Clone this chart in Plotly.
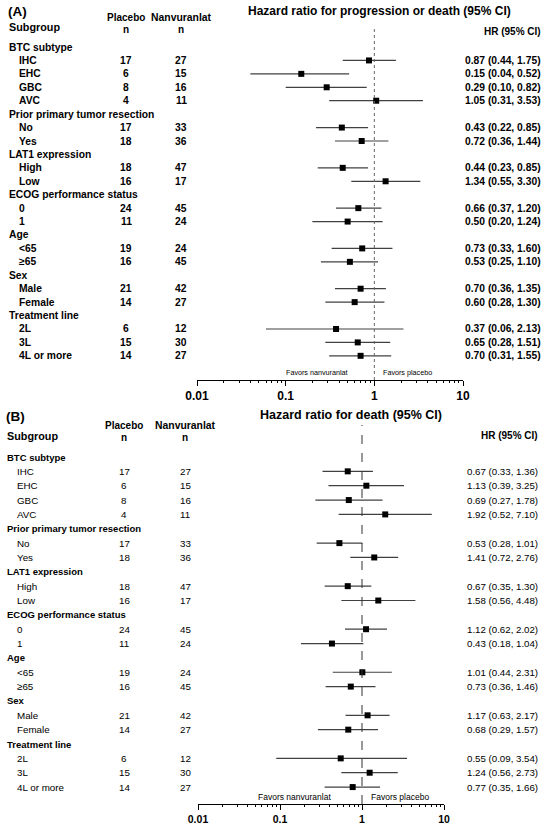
"""
Forest plots of subgroup hazard ratios: (A) progression or death, (B) death.
"""

import plotly.graph_objects as go

# ---- data -----------------------------------------------------------------
categories = [
    "BTC subtype", "IHC", "EHC", "GBC", "AVC",
    "Prior primary tumor resection", "No", "Yes",
    "LAT1 expression", "High", "Low",
    "ECOG performance status", "0", "1",
    "Age", "<65", "≥65",
    "Sex", "Male", "Female",
    "Treatment line", "2L", "3L", "4L or more",
]
group_headers = [
    "BTC subtype", "Prior primary tumor resection", "LAT1 expression",
    "ECOG performance status", "Age", "Sex", "Treatment line",
]
placebo_n = [None, 17, 6, 8, 4, None, 17, 18, None, 18, 16, None, 24, 11,
             None, 19, 16, None, 21, 14, None, 6, 15, 14]
nanvuranlat_n = [None, 27, 15, 16, 11, None, 33, 36, None, 47, 17, None, 45, 24,
                 None, 24, 45, None, 42, 27, None, 12, 30, 27]

# (A) progression or death
hr_pfs = [None, 0.87, 0.15, 0.29, 1.05, None, 0.43, 0.72, None, 0.44, 1.34, None, 0.66, 0.50,
          None, 0.73, 0.53, None, 0.70, 0.60, None, 0.37, 0.65, 0.70]
lo_pfs = [None, 0.44, 0.04, 0.10, 0.31, None, 0.22, 0.36, None, 0.23, 0.55, None, 0.37, 0.20,
          None, 0.33, 0.25, None, 0.36, 0.28, None, 0.06, 0.28, 0.31]
hi_pfs = [None, 1.75, 0.52, 0.82, 3.53, None, 0.85, 1.44, None, 0.85, 3.30, None, 1.20, 1.24,
          None, 1.60, 1.10, None, 1.35, 1.30, None, 2.13, 1.51, 1.55]

# (B) death
hr_os = [None, 0.67, 1.13, 0.69, 1.92, None, 0.53, 1.41, None, 0.67, 1.58, None, 1.12, 0.43,
         None, 1.01, 0.73, None, 1.17, 0.68, None, 0.55, 1.24, 0.77]
lo_os = [None, 0.33, 0.39, 0.27, 0.52, None, 0.28, 0.72, None, 0.35, 0.56, None, 0.62, 0.18,
         None, 0.44, 0.36, None, 0.63, 0.29, None, 0.09, 0.56, 0.35]
hi_os = [None, 1.36, 3.25, 1.78, 7.10, None, 1.01, 2.76, None, 1.30, 4.48, None, 2.02, 1.04,
         None, 2.31, 1.46, None, 2.17, 1.57, None, 3.54, 2.73, 1.66]

tick_vals = [0.01, 0.1, 1, 10]
tick_text = ["0.01", "0.1", "1", "10"]

# ---- layout helpers ---------------------------------------------------------
W, H = 550, 825
FONT = "Liberation Sans, Arial, sans-serif"


def px(x):
    return x / W


def py(y):
    return 1 - y / H


fig = go.Figure()
annotations = []


def text(x, y, s, size, bold=True, anchor="left", yref="paper"):
    annotations.append(
        dict(
            x=px(x), y=py(y) if yref == "paper" else y, xref="paper", yref=yref,
            text=s, showarrow=False, xanchor=anchor, yanchor="middle",
            font=dict(family=FONT, size=size, color="black",
                      weight="bold" if bold else "normal"),
        )
    )


def panel(tag, title, hr, lo, hi, xa, ya, geo):
    rows = list(range(len(categories)))
    pts = [i for i in rows if hr[i] is not None]
    fig.add_trace(
        go.Scatter(
            x=[hr[i] for i in pts],
            y=pts,
            xaxis=xa,
            yaxis=ya,
            mode="markers",
            marker=dict(symbol="square", size=6, color="black"),
            error_x=dict(
                type="data", symmetric=False,
                array=[hi[i] - hr[i] for i in pts],
                arrayminus=[hr[i] - lo[i] for i in pts],
                color="#404040", thickness=1.2, width=0,
            ),
            showlegend=False,
            hoverinfo="skip",
        )
    )
    # reference line at HR = 1
    fig.add_shape(
        type="line", x0=1, x1=1, y0=0, y1=1,
        xref=xa, yref=f"{ya} domain",
        line=dict(color="#666666" if tag == "A" else "#333333", width=1,
                  dash="dot" if tag == "A" else "dash"),
    )

    bold_rows = geo["bold_rows"]
    for i, cat in enumerate(categories):
        if cat in group_headers:
            text(geo["lab_x"], i, cat, geo["fs_grp"], True, yref=ya)
            continue
        text(geo["ind_x"], i, cat, geo["fs"], bold_rows, yref=ya)
        text(geo["pl_x"], i, str(placebo_n[i]), geo["fs"], bold_rows, "center", ya)
        text(geo["nv_x"], i, str(nanvuranlat_n[i]), geo["fs"], bold_rows, "center", ya)
        text(geo["hr_x"], i, f"{hr[i]:.2f} ({lo[i]:.2f}, {hi[i]:.2f})",
             geo["fs_hr"], bold_rows, "right", ya)

    top = geo["top"]
    text(geo["lab_x"] - 1, top + 1, f"({tag})", 13.5)
    text(geo["lab_x"], top + geo["sub_dy"], "Subgroup", 10.8)
    text(geo["pl_x"], top + geo["col_dy"], "Placebo", 10, anchor="center")
    text(geo["pl_x"], top + geo["col_dy"] + 12, "n", 10, anchor="center")
    text(geo["nv_x"], top + geo["col_dy"], "Nanvuranlat", 10.4, anchor="center")
    text(geo["nv_x"], top + geo["col_dy"] + 12, "n", 10, anchor="center")
    text(geo["title_x"], top, title, geo["fs_title"], anchor="center")
    text(geo["hr_x"], top + geo["hr_dy"], "HR (95% CI)", 10, anchor="right")
    text(geo["fav_l"], geo["fav_y"], "Favors nanvuranlat", geo["fs_fav"], False, "center")
    text(geo["fav_r"], geo["fav_y"], "Favors placebo", geo["fs_fav"], False, "center")


geo_a = dict(top=11, lab_x=7, ind_x=17, pl_x=126, nv_x=181, hr_x=543, title_x=379,
             sub_dy=16, col_dy=6, hr_dy=20, fs_title=12,
             fs_grp=10.3, fs=10.3, fs_hr=10.3, bold_rows=True,
             fav_y=372, fav_l=317, fav_r=407, fs_fav=7.2)
geo_b = dict(top=415, lab_x=5, ind_x=15, pl_x=124, nv_x=185, hr_x=540, title_x=351,
             sub_dy=21, col_dy=10, hr_dy=21, fs_title=12.5,
             fs_grp=9.5, fs=9.8, fs_hr=9.7, bold_rows=False,
             fav_y=797, fav_l=294, fav_r=400, fs_fav=8.5)

panel("A", "Hazard ratio for progression or death (95% CI)",
      hr_pfs, lo_pfs, hi_pfs, "x", "y", geo_a)
panel("B", "Hazard ratio for death (95% CI)",
      hr_os, lo_os, hi_os, "x2", "y2", geo_b)


def log_axis(label_size, anchor):
    return dict(
        type="log", range=[-2, 1], tickvals=tick_vals, ticktext=tick_text,
        anchor=anchor, automargin=False,
        showline=True, linecolor="black", linewidth=1,
        ticks="outside", ticklen=5, tickcolor="black", tickwidth=1,
        minor=dict(ticks="outside", ticklen=2, tickcolor="black", dtick="D1", showgrid=False),
        showgrid=False, zeroline=False,
        tickfont=dict(family=FONT, size=label_size, color="black", weight="bold"),
    )


fig.update_layout(
    template="none",
    width=W,
    height=H,
    margin=dict(l=0, r=0, t=0, b=0, pad=0, autoexpand=False),
    paper_bgcolor="white",
    plot_bgcolor="white",
    annotations=annotations,
    xaxis=dict(domain=[px(197), px(463)], **log_axis(12, "y")),
    yaxis=dict(domain=[py(380), py(27)], range=[24.8, -1.49], visible=False, automargin=False),
    xaxis2=dict(domain=[px(198), px(444)], **log_axis(10.5, "y2")),
    yaxis2=dict(domain=[py(804), py(425)], range=[24.18, -2.23], visible=False, automargin=False),
)

# page body has a default 8px margin; drop it so the figure sits at the corner
fig.write_html(
    "out.html",
    config={"displayModeBar": False},
    post_script="document.body.style.margin = '0';",
)
